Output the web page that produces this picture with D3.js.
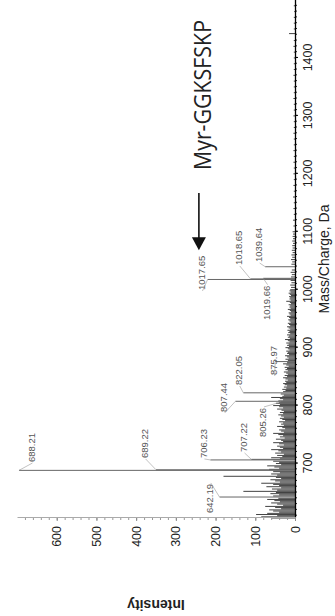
<!DOCTYPE html>
<html><head><meta charset="utf-8">
<script src="https://cdn.jsdelivr.net/npm/d3@7"></script>
<style>html,body{margin:0;padding:0;background:#fff;} svg{display:block}</style>
</head><body>
<svg id="c" width="335" height="616"></svg>
<script>
// ---------- DATA ----------
const massTicks = [700, 800, 900, 1000, 1100, 1200, 1300, 1400];
const intensityTicks = [0, 100, 200, 300, 400, 500, 600];

const peakLabels    = ["642.19","688.21","689.22","706.23","707.22","805.26","807.44","822.05","875.97","1017.65","1018.65","1019.66","1039.64"];
const peakMz        = [642.19, 688.21, 689.22, 706.23, 707.22, 805.26, 807.44, 822.05, 875.97, 1017.65, 1018.65, 1019.66, 1039.64];
const peakIntensity = [190, 695, 350, 213, 110, 40, 150, 130, 50, 220, 112, 80, 75];
// label anchor (start of text, baseline) in data units
const labelMz        = [614.6, 702.6, 709.6, 709.6, 720.0, 745.8, 789.0, 835.5, 852.8, 999.5, 1042.7, 947.7, 1047.8];
const labelIntensity = [206, 655, 370, 222, 121, 72, 171, 133, 45, 227, 133, 63, 83];

const bgMz = [606,608,610,612,614,616,618,620,622,624,626,628,630,632,634,636,638,640,
  644,646,648,650,652,654,656,658,660,662,664,666,668,670,672,674,676,678,680,682,684,686,690,692,694,696,698,700,
  702,704,708,710,712,714,716,718,720,722,724,726,728,730,732,734,736,738,740,742,744,746,748,750,752,754,756,758,760,
  762,764,766,768,770,772,774,776,778,780,782,784,786,788,790,792,794,796,798,800,802,804,806,808,810,812,814,816,818,820,
  824,826,828,830,832,834,836,838,840,842,844,846,848,850,852,854,856,858,860,862,864,866,868,870,872,874,878,880,
  882,884,886,888,890,892,894,896,898,900,902,904,906,908,910,912,914,916,918,920,922,924,926,928,930,932,934,936,938,940,
  942,944,946,948,950,952,954,956,958,960,962,964,966,968,970,972,974,976,978,980,982,984,986,988,990,992,994,996,998,1000,
  1004,1008,1012,1016,1022,1026,1030,1034,1044,1048,1052,1056,1060,1064,1068,1072,1076,1080,1084,1088,1092,1096,1100,
  1110,1120,1130,1140,1150,1160,1170,1180,1190,1200,1210,1220,1230,1240,1250,1260,1270,1280,1290,1300,1310,1320,1330,1340,
  1350,1360,1370,1380,1390,1400,1410,1420,1430,1442,1450,1460,1470,1480,1490];
const bgIntensity = [60,85,45,98,70,40,55,65,35,50,75,30,45,60,38,52,70,42,
  55,40,62,48,130,45,58,35,72,40,55,85,38,50,62,35,48,180,45,60,38,55,65,40,52,70,35,48,
  40,55,38,60,32,45,28,50,35,42,60,30,38,45,28,40,55,30,35,48,26,38,30,42,55,28,35,40,25,
  32,45,28,35,30,40,25,32,38,28,35,42,30,38,28,34,45,30,40,55,38,48,35,42,30,38,60,32,28,36,
  30,24,32,22,28,20,26,30,22,25,18,24,30,20,26,18,22,28,18,24,20,26,16,22,30,20,18,24,
  16,20,25,15,20,18,22,14,18,24,15,20,16,22,14,18,25,13,18,15,20,12,17,14,19,12,16,20,12,15,
  18,11,14,17,12,15,20,11,14,16,10,13,18,11,14,12,16,10,13,22,11,14,12,15,10,13,16,11,14,12,
  10,12,9,11,10,8,11,8,9,7,10,7,9,6,8,6,7,5,7,5,6,5,6,
  4,5,3,4,3,5,3,4,3,4,3,4,3,4,3,3,4,3,3,4,3,3,4,3,
  3,3,4,3,3,3,3,4,3,15,3,3,3,2,3];

const annotationText = "Myr-GGKSFSKP";
const annotationMz = 1206.6, annotationIntensity = 211.5;
const arrowFromMz = 1167, arrowToMz = 1068, arrowIntensity = 242;

// ---------- CHART ----------
const W = 335, H = 616;
const svg = d3.select("#c");
// whole chart is rotated 90° counter-clockwise
const g = svg.append("g").attr("transform", `translate(0,${H}) rotate(-90)`);

const x = d3.scaleLinear().domain([606, 1500]).range([98, 616]);
const y = d3.scaleLinear().domain([0, 700]).range([295, 17]);
const font = "'Liberation Sans', Arial, sans-serif";

// background spectrum sticks
g.append("g").selectAll("line").data(bgMz.map((m, i) => [m, bgIntensity[i]])).join("line")
  .attr("x1", d => x(d[0])).attr("x2", d => x(d[0]))
  .attr("y1", y(0)).attr("y2", d => y(d[1]))
  .attr("stroke", "#111").attr("stroke-width", 0.8);

// labelled peaks
g.append("g").selectAll("line").data(peakMz.map((m, i) => [m, peakIntensity[i]])).join("line")
  .attr("x1", d => x(d[0])).attr("x2", d => x(d[0]))
  .attr("y1", y(0)).attr("y2", d => y(d[1]))
  .attr("stroke", "#666").attr("stroke-width", 1);

// minor mass ticks
g.append("g").attr("transform", `translate(0,${y(0)})`)
  .call(d3.axisBottom(x).tickValues(d3.range(610, 1500, 10)).tickSize(2).tickFormat(""))
  .call(s => s.select(".domain").remove())
  .call(s => s.selectAll("line").attr("stroke", "#222"));
// major mass axis
const xa = g.append("g").attr("transform", `translate(0,${y(0)})`)
  .call(d3.axisBottom(x).tickValues(massTicks).tickSize(3).tickSizeOuter(0).tickPadding(5).tickFormat(d3.format("d")));
xa.select(".domain").attr("stroke", "#000").attr("stroke-width", 1.3);
xa.selectAll("text").attr("font-family", font).attr("font-size", 12.5).attr("fill", "#222");

// minor intensity ticks
g.append("g").attr("transform", `translate(${x(606)},0)`)
  .call(d3.axisLeft(y).tickValues(d3.range(20, 700, 20)).tickSize(2).tickFormat(""))
  .call(s => s.select(".domain").remove())
  .call(s => s.selectAll("line").attr("stroke", "#999"));
const ya = g.append("g").attr("transform", `translate(${x(606)},0)`)
  .call(d3.axisLeft(y).tickValues(intensityTicks).tickSize(3).tickSizeOuter(0).tickPadding(5));
ya.select(".domain").attr("stroke", "#aaa").attr("stroke-width", 1);
ya.selectAll("line").attr("stroke", "#888");
ya.selectAll("text").attr("font-family", font).attr("font-size", 12.5).attr("fill", "#222");

// peak labels + leaders
const lab = g.append("g");
peakLabels.forEach((t, i) => {
  const tx = lab.append("text").attr("x", x(labelMz[i])).attr("y", y(labelIntensity[i]))
    .attr("font-family", font).attr("font-size", 9.5).attr("fill", "#555").text(t);
  const bb = tx.node().getBBox();
  const px = x(peakMz[i]), py = y(peakIntensity[i]);
  const ex = Math.abs(bb.x - px) < Math.abs(bb.x + bb.width - px) ? bb.x - 1 : bb.x + bb.width + 1;
  lab.append("line").attr("x1", px).attr("y1", py).attr("x2", ex).attr("y2", bb.y + bb.height * 0.6)
    .attr("stroke", "#999").attr("stroke-width", 0.6);
});

// axis titles
g.append("text").attr("x", 357).attr("y", 329).attr("text-anchor", "middle")
  .attr("font-family", font).attr("font-size", 14).attr("fill", "#222").text("Mass/Charge, Da");
g.append("text").attr("transform", "translate(16,156) rotate(-90)").attr("text-anchor", "middle")
  .attr("font-family", font).attr("font-weight", "bold").attr("font-size", 14).attr("fill", "#222").text("Intensity");

// arrow + annotation
const ay = y(arrowIntensity);
g.append("line").attr("x1", x(arrowFromMz)).attr("x2", x(arrowToMz) + 10).attr("y1", ay).attr("y2", ay)
  .attr("stroke", "#111").attr("stroke-width", 1.6);
const tip = x(arrowToMz);
g.append("path").attr("d", `M${tip},${ay} L${tip + 13},${ay - 7} L${tip + 13},${ay + 7} Z`).attr("fill", "#111");
g.append("text").attr("x", x(annotationMz)).attr("y", y(annotationIntensity))
  .attr("font-family", "'Open Sans', 'Noto Sans', sans-serif").attr("font-size", 23)
  .attr("textLength", 150).attr("lengthAdjust", "spacingAndGlyphs")
  .attr("fill", "#222").text(annotationText);
</script>
</body></html>
